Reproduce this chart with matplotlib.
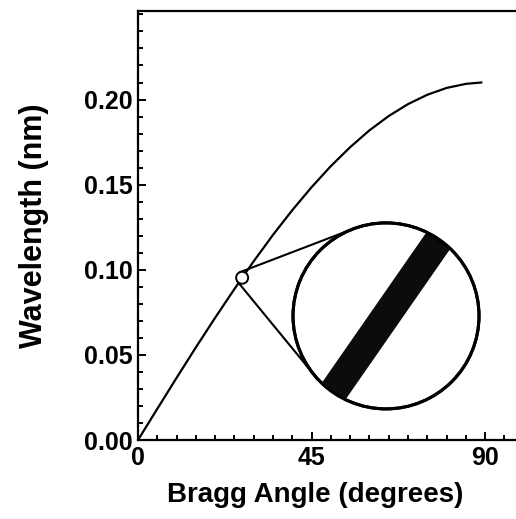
import numpy as np
import matplotlib
matplotlib.use('Agg')
import matplotlib.pyplot as plt
from matplotlib.patches import Circle, Polygon
from matplotlib.ticker import MultipleLocator, FormatStrFormatter

plt.rcParams['font.family'] = ['Liberation Sans', 'DejaVu Sans']
plt.rcParams['font.weight'] = 'bold'
plt.rcParams['axes.labelweight'] = 'bold'

# values
bragg_angle = [0, 5, 10, 15, 20, 25, 30, 35, 40, 45, 50, 55, 60, 65, 70, 75, 80, 85, 89]
wavelength = [0.0, 0.0183, 0.0365, 0.0544, 0.0718, 0.0887, 0.1050, 0.1205, 0.1350, 0.1485,
              0.1609, 0.1720, 0.1819, 0.1903, 0.1973, 0.2028, 0.2068, 0.2092, 0.2100]

# magnified spot on the curve and where the magnifier sits
spot_angle = 27
spot_wavelength = 0.0953
lens_angle = 64.3
lens_wavelength = 0.0729

x_ticks = [0, 45, 90]
y_ticks = [0.00, 0.05, 0.10, 0.15, 0.20]

fig = plt.figure(figsize=(5.16, 5.19), dpi=100)
ax = fig.add_axes([138 / 516, 79 / 519, 378 / 516, 429 / 519])

ax.plot(bragg_angle, wavelength, color='black', lw=1.6, zorder=2)

ax.set_xlim(0, 98)
ax.set_ylim(0, 0.252)
ax.set_xticks(x_ticks)
ax.set_yticks(y_ticks)
ax.xaxis.set_minor_locator(MultipleLocator(5))
ax.yaxis.set_minor_locator(MultipleLocator(0.01))
ax.yaxis.set_major_formatter(FormatStrFormatter('%.2f'))
ax.tick_params(which='both', direction='in', width=1.4, labelsize=18, top=False, right=False)
ax.tick_params(which='major', length=6, pad=4)
ax.tick_params(which='minor', length=3.5)
ax.spines['right'].set_visible(False)
for s in ['left', 'bottom', 'top']:
    ax.spines[s].set_linewidth(1.6)

ax.set_xlabel('Bragg Angle (degrees)', fontsize=20)
ax.xaxis.set_label_coords(0.47, -0.098)
ax.set_ylabel('Wavelength (nm)', fontsize=22, labelpad=25)

# magnifier, drawn in figure inches so the circles stay round
dpi = fig.dpi
P = ax.transData.transform((spot_angle, spot_wavelength)) / dpi
C = ax.transData.transform((lens_angle, lens_wavelength)) / dpi
r_small, r_big = 0.06, 0.93
tr = fig.dpi_scale_trans

d = C - P
D = np.hypot(*d)
u = d / D
phi = np.arccos((r_big - r_small) / D)
for sgn in (1, -1):
    c, s = np.cos(sgn * phi), np.sin(sgn * phi)
    n = np.array([u[0] * c - u[1] * s, u[0] * s + u[1] * c])
    p1 = P - r_small * n
    p2 = C - r_big * n
    ax.plot([p1[0], p2[0]], [p1[1], p2[1]], color='black', lw=1.5,
            transform=tr, clip_on=False, zorder=3)

big = Circle(C, r_big, transform=tr, facecolor='white', edgecolor='black', lw=2.2, zorder=4, clip_on=False)
ax.add_patch(big)
small = Circle(P, r_small, transform=tr, facecolor='white', edgecolor='black', lw=1.4, zorder=4, clip_on=False)
ax.add_patch(small)

# band: the curve segment under the lens, same slope as the curve at the spot
a = ax.transData.transform((bragg_angle[5], wavelength[5]))
b = ax.transData.transform((bragg_angle[6], wavelength[6]))
t = (b - a) / np.hypot(*(b - a))
nrm = np.array([-t[1], t[0]])
half_w, half_l = 0.145, 1.2
corners = [C + half_l * t + half_w * nrm, C - half_l * t + half_w * nrm,
           C - half_l * t - half_w * nrm, C + half_l * t - half_w * nrm]
band = Polygon(corners, closed=True, transform=tr, facecolor='#0c0c0c', edgecolor='none', zorder=5)
ax.add_patch(band)
band.set_clip_path(big)
ring = Circle(C, r_big, transform=tr, fill=False, edgecolor='black', lw=2.2, zorder=6, clip_on=False)
ax.add_patch(ring)

fig.savefig('out.png', dpi=100)
